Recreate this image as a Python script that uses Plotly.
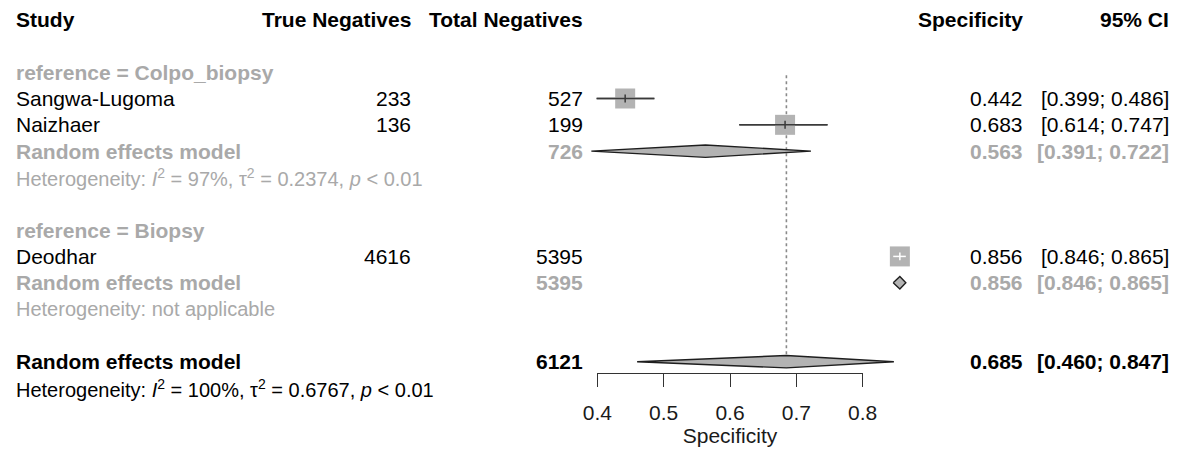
import plotly.graph_objects as go

# ---------------- data ----------------
studies = ["Sangwa-Lugoma", "Naizhaer", "Deodhar"]
study_group = [0, 0, 1]
true_neg = [233, 136, 4616]
total_neg = [527, 199, 5395]
spec = [0.442, 0.683, 0.856]
ci_lo = [0.399, 0.614, 0.846]
ci_hi = [0.486, 0.747, 0.865]

groups = ["reference = Colpo_biopsy", "reference = Biopsy"]
group_total = [726, 5395]
group_est = [0.563, 0.856]
group_lo = [0.391, 0.846]
group_hi = [0.722, 0.865]
group_het = [
    "Heterogeneity: <i>I</i><sup>2</sup> = 97%, τ<sup>2</sup> = 0.2374, <i>p</i> < 0.01",
    "Heterogeneity: not applicable",
]

overall_total = 6121
overall_est = 0.685
overall_lo = 0.460
overall_hi = 0.847
overall_het = "Heterogeneity: <i>I</i><sup>2</sup> = 100%, τ<sup>2</sup> = 0.6767, <i>p</i> < 0.01"

tick_vals = [0.4, 0.5, 0.6, 0.7, 0.8]
tick_text = ["0.4", "0.5", "0.6", "0.7", "0.8"]

# ---------------- layout of rows ----------------
W, H = 1178, 453
OFF = 8  # page body margin compensation
group_label_rows = [2, 8]
study_rows = [3, 4, 9]
group_re_rows = [5, 10]
group_het_rows = [6, 11]
overall_row = 13
overall_het_row = 14
header_row = 0

# pixel mapping helpers (layout only), in figure pixels
px_per_unit = 663.5
x0_px = 597.3 - OFF  # pixel of 0.4
x_min = 0.4 - x0_px / px_per_unit
x_max = 0.4 + (W - x0_px) / px_per_unit
row_px = 26.32
row3_px = 98.5 - OFF
y_top = 3 - row3_px / row_px
y_bot = 3 + (H - row3_px) / row_px
axis_px = 373.3 - OFF

FONT = "Liberation Sans, Arial, Helvetica, sans-serif"
BLACK = "#000000"
GRAY = "#A9A9A9"
SQ = "#B3B3B3"
DIA = "#B3B3B3"
LINE = "#3a3a3a"
FS = 21
FS_HET = 20

fig = go.Figure()

# reference dotted line at overall estimate
fig.add_trace(go.Scatter(x=[overall_est, overall_est], y=[2.12, overall_row],
                         mode="lines", line=dict(color="#8a8a8a", width=1.6, dash="dot"),
                         hoverinfo="skip", showlegend=False))

# CI lines for studies (outside squares)
for i in range(len(studies)):
    inside = studies[i] == "Deodhar"
    r = study_rows[i]
    if not inside:
        fig.add_trace(go.Scatter(x=[ci_lo[i], ci_hi[i]], y=[r, r], mode="lines",
                                 line=dict(color=LINE, width=1.5), hoverinfo="skip", showlegend=False))

# squares
fig.add_trace(go.Scatter(x=spec, y=study_rows, mode="markers",
                         marker=dict(symbol="square", size=20, color=SQ, line=dict(width=0)),
                         hoverinfo="skip", showlegend=False))

# CI line and point tick drawn on top of squares
for i in range(len(studies)):
    r = study_rows[i]
    inside = studies[i] == "Deodhar"
    col = "#ffffff" if inside else LINE
    fig.add_trace(go.Scatter(x=[ci_lo[i], ci_hi[i], None, spec[i], spec[i]],
                             y=[r, r, None, r - 0.15, r + 0.15], mode="lines",
                             line=dict(color=col, width=1.5), hoverinfo="skip", showlegend=False))

# diamonds
dh = 0.235
def diamond(lo, est, hi, r):
    return [lo, est, hi, est, lo], [r, r - dh, r, r + dh, r]

for g in range(len(groups)):
    xs, ys = diamond(group_lo[g], group_est[g], group_hi[g], group_re_rows[g])
    fig.add_trace(go.Scatter(x=xs, y=ys, mode="lines", fill="toself", fillcolor=DIA,
                             line=dict(color="#1e1e1e", width=1.4), hoverinfo="skip", showlegend=False))
xs, ys = diamond(overall_lo, overall_est, overall_hi, overall_row)
fig.add_trace(go.Scatter(x=xs, y=ys, mode="lines", fill="toself", fillcolor=DIA,
                         line=dict(color="#1e1e1e", width=1.4), hoverinfo="skip", showlegend=False))

# dummy trace for the visible axis
fig.add_trace(go.Scatter(x=[tick_vals[0], tick_vals[-1]], y=[overall_row, overall_row], xaxis="x2", yaxis="y",
                         mode="markers", marker=dict(opacity=0), hoverinfo="skip", showlegend=False))

# ---------------- text columns ----------------
X_STUDY = 14 - OFF
X_TN = 413 - OFF
X_TOT = 585 - OFF
X_SPEC = 1025 - OFF
X_CI = 1171 - OFF

ann = []
def txt(x_px, row, s, color=BLACK, bold=False, size=FS, align="left"):
    t = f"<b>{s}</b>" if bold else s
    ann.append(dict(x=x_px / W, xref="paper", y=row, yref="y", text=t, showarrow=False,
                    xanchor=align, yanchor="middle", font=dict(family=FONT, size=size, color=color)))

# header
txt(X_STUDY, header_row, "Study", bold=True)
txt(X_TN, header_row, "True Negatives", bold=True, align="right")
txt(X_TOT, header_row, "Total Negatives", bold=True, align="right")
txt(X_SPEC, header_row, "Specificity", bold=True, align="right")
txt(X_CI, header_row, "95% CI", bold=True, align="right")

for g in range(len(groups)):
    txt(X_STUDY, group_label_rows[g], groups[g], color=GRAY, bold=True)
    for i in range(len(studies)):
        if study_group[i] != g:
            continue
        r = study_rows[i]
        txt(X_STUDY, r, studies[i])
        txt(X_TN, r, str(true_neg[i]), align="right")
        txt(X_TOT, r, str(total_neg[i]), align="right")
        txt(X_SPEC, r, f"{spec[i]:.3f}", align="right")
        txt(X_CI, r, f"[{ci_lo[i]:.3f}; {ci_hi[i]:.3f}]", align="right")
    r = group_re_rows[g]
    txt(X_STUDY, r, "Random effects model", color=GRAY, bold=True)
    txt(X_TOT, r, str(group_total[g]), color=GRAY, bold=True, align="right")
    txt(X_SPEC, r, f"{group_est[g]:.3f}", color=GRAY, bold=True, align="right")
    txt(X_CI, r, f"[{group_lo[g]:.3f}; {group_hi[g]:.3f}]", color=GRAY, bold=True, align="right")
    txt(X_STUDY, group_het_rows[g], group_het[g], color=GRAY, size=FS_HET)

txt(X_STUDY, overall_row, "Random effects model", bold=True)
txt(X_TOT, overall_row, str(overall_total), bold=True, align="right")
txt(X_SPEC, overall_row, f"{overall_est:.3f}", bold=True, align="right")
txt(X_CI, overall_row, f"[{overall_lo:.3f}; {overall_hi:.3f}]", bold=True, align="right")
txt(X_STUDY, overall_het_row, overall_het, size=FS_HET)

fig.update_layout(
    width=W, height=H, autosize=False, margin=dict(l=0, r=0, t=0, b=0, pad=0),
    paper_bgcolor="white", plot_bgcolor="rgba(0,0,0,0)",
    showlegend=False, annotations=ann,
    xaxis=dict(range=[x_min, x_max], visible=False, domain=[0, 1], automargin=False),
    yaxis=dict(range=[y_bot, y_top], visible=False, domain=[0, 1], automargin=False),
    xaxis2=dict(domain=[x0_px / W, (x0_px + 0.4 * px_per_unit) / W], range=[0.4, 0.8],
                anchor="free", position=(H - axis_px) / H, automargin=False,
                showline=True, linecolor="#333333", linewidth=1.3,
                ticks="outside", ticklen=13, tickwidth=1.3, tickcolor="#333333",
                ticklabelstandoff=7,
                tickvals=tick_vals, ticktext=tick_text, showgrid=False, zeroline=False,
                tickfont=dict(family=FONT, size=FS, color="#1a1a1a"),
                title=dict(text="Specificity", font=dict(family=FONT, size=FS, color="#1a1a1a"), standoff=5)),
)

fig.write_html("out.html", config={"responsive": False, "displayModeBar": False})
